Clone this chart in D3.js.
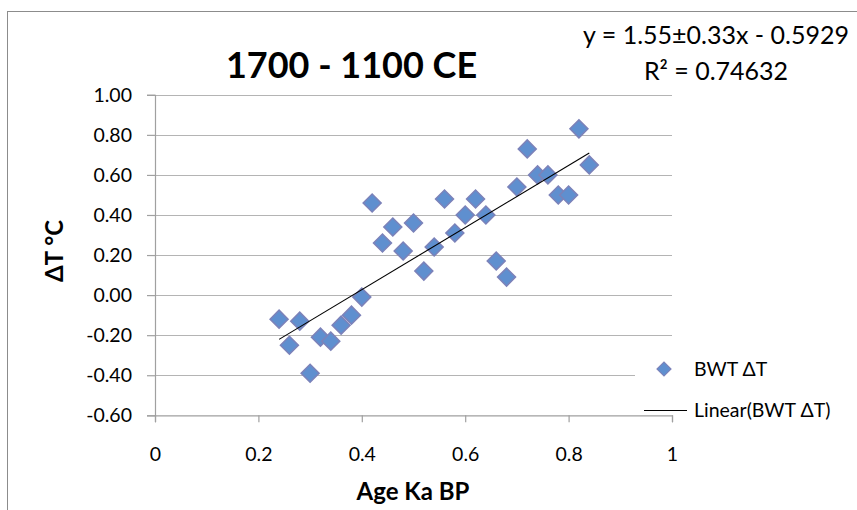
<!DOCTYPE html>
<html>
<head>
<meta charset="utf-8">
<script src="https://cdn.jsdelivr.net/npm/d3@7"></script>
<style>
  html, body { margin: 0; padding: 0; background: #fff; }
  svg { display: block; font-family: Lato, "Open Sans", sans-serif; }
</style>
</head>
<body>
<svg id="chart" width="857" height="510"></svg>
<script>
// ---- data ----
const title = "1700 - 1100 CE";
const seriesName = "BWT ΔT";
const trendName = "Linear(BWT ΔT)";
const eqLine1 = "y = 1.55±0.33x - 0.5929";
const eqLine2 = "R² = 0.74632";
const xLabel = "Age Ka BP";
const yLabel = "ΔT °C";
const ageKa = [0.24, 0.26, 0.28, 0.30, 0.32, 0.34, 0.36, 0.38, 0.40, 0.42,
               0.44, 0.46, 0.48, 0.50, 0.52, 0.54, 0.56, 0.58, 0.60, 0.62,
               0.64, 0.66, 0.68, 0.70, 0.72, 0.74, 0.76, 0.78, 0.80, 0.82, 0.84];
const deltaT = [-0.12, -0.25, -0.13, -0.39, -0.21, -0.23, -0.15, -0.10, -0.01, 0.46,
                0.26, 0.34, 0.22, 0.36, 0.12, 0.24, 0.48, 0.31, 0.40, 0.48,
                0.40, 0.17, 0.09, 0.54, 0.73, 0.60, 0.60, 0.50, 0.50, 0.83, 0.65];
const trendSlope = 1.55;
const trendIntercept = -0.5929;
const xTicks = [0, 0.2, 0.4, 0.6, 0.8, 1];
const yTicks = [-0.6, -0.4, -0.2, 0, 0.2, 0.4, 0.6, 0.8, 1.0];

// ---- layout ----
const svg = d3.select("#chart");
const x = d3.scaleLinear().domain([0, 1]).range([155, 672]);
const y = d3.scaleLinear().domain([-0.6, 1.0]).range([415.3, 94.8]);
const gridColor = "#b4b4b4";
const axisColor = "#a0a0a0";
const markFill = "#5f8fcf";
const markStroke = "#7c82b9";

// chart border
svg.append("rect").attr("x", 7.5).attr("y", 11.5).attr("width", 900).attr("height", 600)
  .attr("fill", "#fff").attr("stroke", "#8c8c8c").attr("stroke-width", 1);

// cut-off text fragment above chart
svg.append("text").attr("x", 4).attr("y", -3).attr("font-size", 20).attr("fill", "#000").text("g");

// gridlines
svg.append("g").selectAll("line").data(yTicks.filter(d => d > -0.6)).join("line")
  .attr("x1", x(0)).attr("x2", x(1))
  .attr("y1", d => Math.round(y(d)) + 0.5).attr("y2", d => Math.round(y(d)) + 0.5)
  .attr("stroke", gridColor).attr("stroke-width", 1.2);

// y axis
const yAxis = svg.append("g").attr("transform", `translate(${x(0)},0)`)
  .call(d3.axisLeft(y).tickValues(yTicks).tickSize(8).tickPadding(15)
    .tickFormat(d => d.toFixed(2)));
yAxis.select(".domain").attr("stroke", axisColor).attr("stroke-width", 1.2);
yAxis.selectAll(".tick line").attr("stroke", axisColor).attr("stroke-width", 1.2);
yAxis.selectAll("text").attr("font-size", 19.5).attr("fill", "#000")
  .attr("font-family", "Lato, sans-serif");

// x axis
const xAxis = svg.append("g").attr("transform", `translate(0,${y(-0.6)})`)
  .call(d3.axisBottom(x).tickValues(xTicks).tickSize(7).tickPadding(0)
    .tickFormat(d => String(+d.toFixed(1))));
xAxis.select(".domain").attr("stroke", axisColor).attr("stroke-width", 1.2);
xAxis.selectAll(".tick line").attr("stroke", axisColor).attr("stroke-width", 1.2);
xAxis.selectAll("text").attr("font-size", 19.5).attr("fill", "#000")
  .attr("font-family", "Lato, sans-serif").attr("dy", null).attr("y", 46);

// markers
const diamond = d3.symbol().type(d3.symbolSquare).size(162);
svg.append("g").selectAll("path").data(ageKa.map((a, i) => [a, deltaT[i]])).join("path")
  .attr("d", diamond)
  .attr("transform", d => `translate(${x(d[0])},${y(d[1])}) rotate(45)`)
  .attr("fill", markFill).attr("stroke", markStroke).attr("stroke-width", 1.5);

// trend line
const x0 = d3.min(ageKa), x1 = d3.max(ageKa);
svg.append("line")
  .attr("x1", x(x0)).attr("y1", y(trendSlope * x0 + trendIntercept))
  .attr("x2", x(x1)).attr("y2", y(trendSlope * x1 + trendIntercept))
  .attr("stroke", "#000").attr("stroke-width", 1.1);

// title
svg.append("text").attr("x", 351.5).attr("y", 78).attr("text-anchor", "middle")
  .attr("font-size", 36).attr("font-weight", "bold").attr("fill", "#000").text(title);

// equation
svg.append("text").attr("x", 716).attr("y", 44).attr("text-anchor", "middle")
  .attr("font-size", 25).attr("fill", "#000").text(eqLine1);
svg.append("text").attr("x", 716).attr("y", 80).attr("text-anchor", "middle")
  .attr("font-size", 25).attr("fill", "#000").text(eqLine2);

// axis titles
svg.append("text").attr("transform", "translate(63,251) rotate(-90)").attr("text-anchor", "middle")
  .attr("font-size", 24).attr("font-weight", "bold").attr("fill", "#000").text(yLabel);
svg.append("text").attr("x", 413).attr("y", 500).attr("text-anchor", "middle")
  .attr("font-size", 24).attr("font-weight", "bold").attr("fill", "#000").text(xLabel);

// legend
const lg = svg.append("g");
lg.append("rect").attr("x", 635).attr("y", 352).attr("width", 215).attr("height", 48).attr("fill", "#fff");
lg.append("path").attr("d", d3.symbol().type(d3.symbolSquare).size(98))
  .attr("transform", "translate(664,369) rotate(45)")
  .attr("fill", markFill).attr("stroke", markStroke).attr("stroke-width", 1.2);
lg.append("text").attr("x", 694).attr("y", 376).attr("font-size", 19.5).attr("fill", "#000").text(seriesName);
lg.append("line").attr("x1", 644).attr("x2", 687).attr("y1", 410.5).attr("y2", 410.5)
  .attr("stroke", "#000").attr("stroke-width", 1);
lg.append("text").attr("x", 694).attr("y", 417).attr("font-size", 19.5).attr("fill", "#000").text(trendName);
</script>
</body>
</html>
